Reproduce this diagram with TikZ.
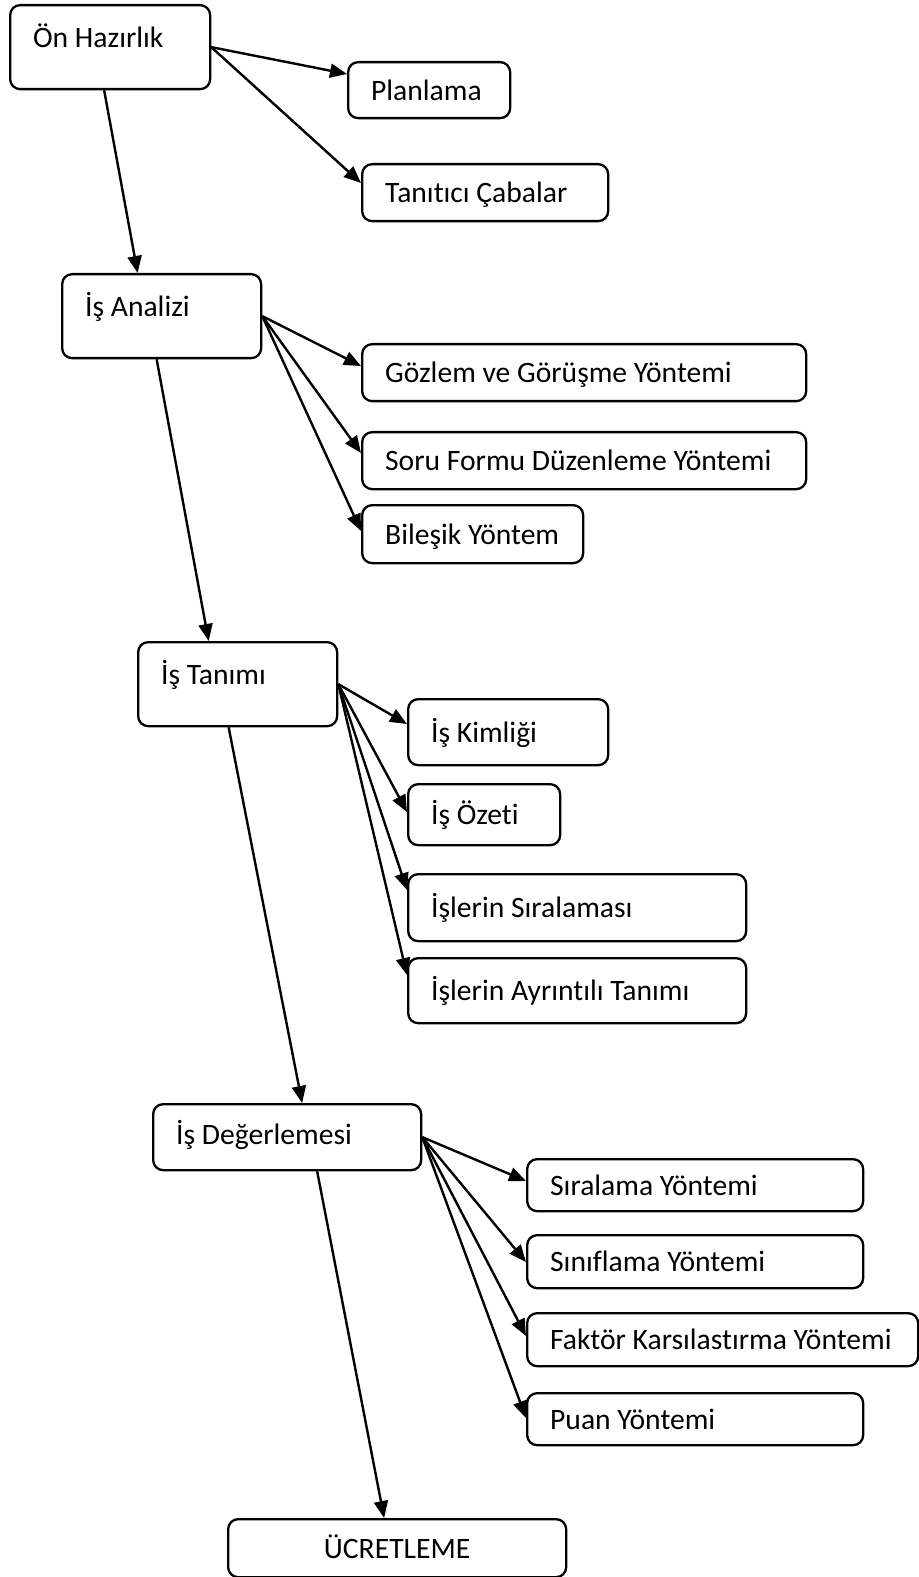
\documentclass[tikz,border=0pt]{standalone}
\usepackage{fontspec}
\setmainfont{Carlito}[RawFeature={-liga}]
\usetikzlibrary{arrows.meta}

\begin{document}
\begin{tikzpicture}[
    x=0.5pt, y=-0.5pt,
    font=\fontsize{14.8}{17}\selectfont,
    box/.style={draw, line width=1.15pt, rounded corners=5pt, anchor=north west,
        inner xsep=11.5pt, inner ysep=0pt, align=flush left,
        text height=12.5pt, text depth=2.5pt},
    headbox/.style={text height=10pt, text depth=10pt},
    arr/.style={-{Triangle[length=8.5pt, width=7pt]}, line width=1.2pt}
]
    \useasboundingbox (0,0) rectangle (918,1577);

    % Main steps
    \node[box, headbox, text width=77pt, minimum height=42pt] (onhaz) at (9,4) {Ön Hazırlık};
    \node[box, headbox, text width=76.5pt, minimum height=42pt] (analiz) at (61,273) {İş Analizi};
    \node[box, headbox, text width=76.5pt, minimum height=42pt] (tanim) at (137,641) {İş Tanımı};
    \node[box, text height=10pt, text width=111pt, minimum height=33pt] (deger) at (152,1103) {İş Değerlemesi};
    \node[box, align=flush center, text width=146pt, minimum height=29pt] (ucret) at (227,1518) {ÜCRETLEME};

    % Ön Hazırlık
    \node[box, text width=58pt, minimum height=28pt] (plan) at (347,61) {Planlama};
    \node[box, text width=100pt, minimum height=28.5pt] (tanitici) at (361,163) {Tanıtıcı Çabalar};

    % İş Analizi
    \node[box, text width=199pt, minimum height=28.5pt] (gozlem) at (361,343) {Gözlem ve Görüşme Yöntemi};
    \node[box, text width=199pt, minimum height=28.5pt] (soru) at (361,431) {Soru Formu Düzenleme Yöntemi};
    \node[box, text width=87.5pt, minimum height=29pt] (bilesik) at (361,504) {Bileşik Yöntem};

    % İş Tanımı
    \node[box, text width=77pt, minimum height=33pt] (kimlik) at (407,698) {İş Kimliği};
    \node[box, text width=53pt, minimum height=30.5pt] (ozet) at (407,783) {İş Özeti};
    \node[box, text width=146pt, minimum height=33.5pt] (sira) at (407,873) {İşlerin Sıralaması};
    \node[box, text width=146pt, minimum height=32.5pt] (ayrinti) at (407,957) {İşlerin Ayrıntılı Tanımı};

    % İş Değerlemesi
    \node[box, text width=145pt, minimum height=26pt] (siralama) at (526,1158) {Sıralama Yöntemi};
    \node[box, text width=145pt, minimum height=26.5pt] (sinif) at (526,1234) {Sınıflama Yöntemi};
    \node[box, text width=172.5pt, minimum height=26.5pt] (faktor) at (526,1312) {Faktör Karsılastırma Yöntemi};
    \node[box, text width=145pt, minimum height=26pt] (puan) at (526,1392) {Puan Yöntemi};

    % Main line
    \draw[arr] ([xshift=-3pt]onhaz.south) -- ([xshift=-12pt]analiz.north);
    \draw[arr] ([xshift=-2.5pt]analiz.south) -- ([xshift=-14.5pt]tanim.north);
    \draw[arr] ([xshift=-4.5pt]tanim.south) -- ([xshift=7.5pt]deger.north);
    \draw[arr] ([xshift=15pt]deger.south) -- ([xshift=-6.5pt]ucret.north);

    % Branches
    \draw[arr] (onhaz.east) -- ([yshift=-6.5pt]plan.north west);
    \draw[arr] (onhaz.east) -- ([yshift=-10pt]tanitici.north west);

    \draw[arr] (analiz.east) -- ([yshift=-11.5pt]gozlem.north west);
    \draw[arr] (analiz.east) -- ([yshift=-11pt]soru.north west);
    \draw[arr] (analiz.east) -- ([yshift=-13.5pt]bilesik.north west);

    \draw[arr] (tanim.east) -- ([yshift=-13pt]kimlik.north west);
    \draw[arr] (tanim.east) -- ([yshift=-14.5pt]ozet.north west);
    \draw[arr] (tanim.east) -- ([yshift=-8.5pt]sira.north west);
    \draw[arr] (tanim.east) -- ([yshift=-9pt]ayrinti.north west);

    \draw[arr] (deger.east) -- ([yshift=-11.5pt]siralama.north west);
    \draw[arr] (deger.east) -- ([yshift=-14pt]sinif.north west);
    \draw[arr] (deger.east) -- ([yshift=-12pt]faktor.north west);
    \draw[arr] (deger.east) -- ([yshift=-13pt]puan.north west);

\end{tikzpicture}
\end{document}
